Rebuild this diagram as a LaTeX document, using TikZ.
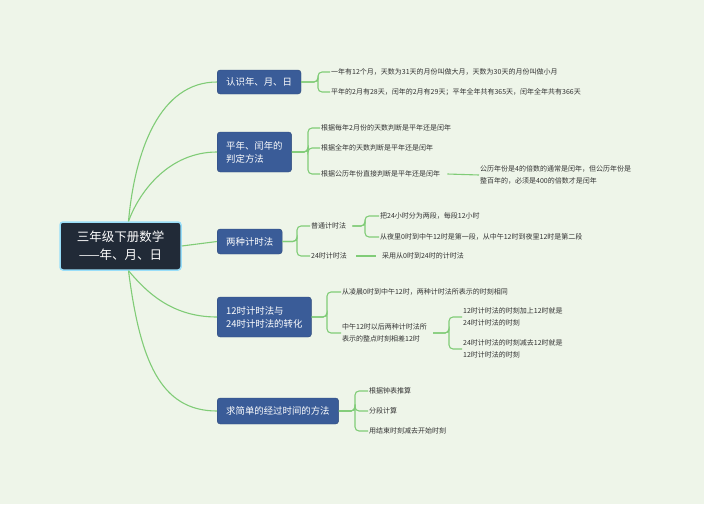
\documentclass[tikz,border=0pt]{standalone}
\usepackage{fontspec}
\setmainfont{Noto Sans CJK SC}
\begin{document}
\begin{tikzpicture}[x=1pt,y=-1pt,
  br/.style={fill=brbox,draw=brbox!80!black,line width=0.4pt,rounded corners=3pt,text=white,font=\fontsize{9.4}{13}\selectfont,inner xsep=9pt,inner ysep=5pt,align=left,anchor=west},
  lf/.style={text=black!80,font=\fontsize{7}{12}\selectfont,inner sep=1pt,anchor=west,align=left},
  gl/.style={draw=glc,line width=1.1pt,rounded corners=4pt},
  cl/.style={draw=glc,line width=1.1pt}]
\definecolor{bg}{HTML}{EEF5E9}
\definecolor{brbox}{HTML}{3A5C98}
\definecolor{glc}{HTML}{80CC77}
\definecolor{rootc}{HTML}{212A37}
\fill[bg] (0,0) rectangle (704,504);
\useasboundingbox (0,0) rectangle (704,504);
% root
\node[fill=rootc,draw=cyan!40,line width=1.5pt,rounded corners=3pt,text=white,font=\fontsize{12.5}{18}\selectfont,minimum width=121pt,minimum height=48pt,align=center] (root) at (120.5,246) {三年级下册数学\\——年、月、日};
% branches
\node[br,minimum height=24pt] (b1) at (217,82) {认识年、月、日};
\node[br,minimum height=40pt] (b2) at (217,152) {平年、闰年的\\判定方法};
\node[br,minimum height=25pt] (b3) at (217,241.5) {两种计时法};
\node[br,minimum height=40pt] (b4) at (217,317) {12时计时法与\\24时计时法的转化};
\node[br,minimum height=26pt] (b5) at (217,411) {求简单的经过时间的方法};
% root connectors
\draw[cl] (root.north) ++(8,0) coordinate (rt) .. controls (135,150) and (160,82) .. (b1.west);
\draw[cl] (rt) .. controls (140,190) and (170,152) .. (b2.west);
\draw[cl] (root.east) -- (b3.west);
\draw[cl] (root.south) ++(8,0) coordinate (rb) .. controls (145,290) and (170,317) .. (b4.west);
\draw[cl] (rb) .. controls (140,360) and (160,411) .. (b5.west);
% leaves b1
\node[lf] (l11) at (330,72) {一年有12个月，天数为31天的月份叫做大月，天数为30天的月份叫做小月};
\node[lf] (l12) at (330,92) {平年的2月有28天，闰年的2月有29天；平年全年共有365天，闰年全年共有366天};
\foreach \n in {l11,l12} \draw[gl] (b1.east) -| (318,82) |- (\n.west);
% b2
\node[lf] (l21) at (320,128) {根据每年2月份的天数判断是平年还是闰年};
\node[lf] (l22) at (320,148) {根据全年的天数判断是平年还是闰年};
\node[lf] (l23) at (320,174) {根据公历年份直接判断是平年还是闰年};
\foreach \n in {l21,l22,l23} \draw[gl] (b2.east) -| (308,152) |- (\n.west);
\node[lf] (l231) at (479,175) {公历年份是4的倍数的通常是闰年，但公历年份是\\整百年的，必须是400的倍数才是闰年};
\draw[cl] (l23.east) ++(6,0) -- (l231.west);
% b3
\node[lf] (l31) at (310,226) {普通计时法};
\node[lf] (l32) at (310,256) {24时计时法};
\foreach \n in {l31,l32} \draw[gl] (b3.east) -| (297,241.5) |- (\n.west);
\node[lf] (l311) at (379,216) {把24小时分为两段，每段12小时};
\node[lf] (l312) at (379,237) {从夜里0时到中午12时是第一段，从中午12时到夜里12时是第二段};
\foreach \n in {l311,l312} \draw[gl] (l31.east) ++(5,0) -| (365,226) |- (\n.west);
\node[lf] (l321) at (381,256) {采用从0时到24时的计时法};
\draw[cl] (l32.east) ++(8,0) -- ++(20,0);
% b4
\node[lf] (l41) at (341,292) {从凌晨0时到中午12时，两种计时法所表示的时刻相同};
\node[lf] (l42) at (341,333) {中午12时以后两种计时法所\\表示的整点时刻相差12时};
\foreach \n in {l41,l42} \draw[gl] (b4.east) -| (327,317) |- (\n.west);
\node[lf] (l421) at (462,317) {12时计时法的时刻加上12时就是\\24时计时法的时刻};
\node[lf] (l422) at (462,349) {24时计时法的时刻减去12时就是\\12时计时法的时刻};
\foreach \n in {l421,l422} \draw[gl] (l42.east) ++(5,0) -| (449,333) |- (\n.west);
% b5
\node[lf] (l51) at (368,391) {根据钟表推算};
\node[lf] (l52) at (368,411) {分段计算};
\node[lf] (l53) at (368,431) {用结束时刻减去开始时刻};
\foreach \n in {l51,l52,l53} \draw[gl] (b5.east) -| (355,411) |- (\n.west);
\end{tikzpicture}
\end{document}
